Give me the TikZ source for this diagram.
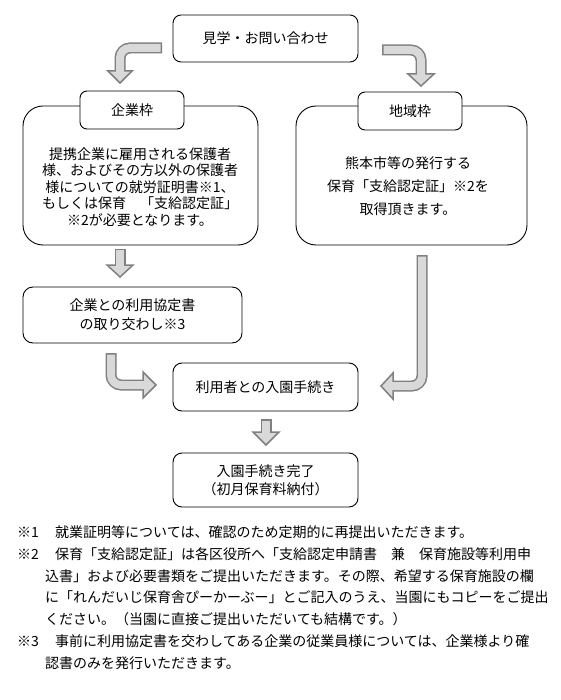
\documentclass[tikz,border=0pt]{standalone}
\usepackage{fontspec}
\newfontfamily\jp{Noto Sans CJK JP}
\definecolor{agray}{RGB}{128,128,128}
\definecolor{afill}{RGB}{217,217,217}
\begin{document}
\begin{tikzpicture}[x=1pt,y=-1pt,
  box/.style={draw=black, line width=0.9pt, fill=white, inner sep=0pt, font=\jp\fontsize{14}{16.5}\selectfont, align=center},
  txt/.style={inner sep=0pt, font=\jp\fontsize{14}{16.5}\selectfont, align=center},
  fn/.style={inner sep=0pt, anchor=base west, font=\jp\fontsize{14}{16}\selectfont},
  arrowout/.style={draw=agray, line width=11pt, rounded corners=10pt},
  arrowin/.style={draw=afill, line width=8pt, rounded corners=10pt},
  arrowhead/.style={fill=afill, draw=agray, line width=1.5pt, line join=miter}
]
\useasboundingbox (0,0) rectangle (560,700);
\fill[white] (0,0) rectangle (560,700);

% boxes
\node[box, rounded corners=8pt, minimum width=185pt, minimum height=47pt] (top) at (265.5,38.5) {見学・お問い合わせ};
\node[box, rounded corners=20pt, minimum width=235pt, minimum height=139pt] (lbig) at (140.5,175.5) {};
\node[box, rounded corners=20pt, minimum width=231pt, minimum height=139pt] (rbig) at (411.5,175.5) {};
\node[box, rounded corners=7pt, minimum width=104pt, minimum height=38pt] (llab) at (132,110) {企業枠};
\node[box, rounded corners=7pt, minimum width=104pt, minimum height=38pt] (rlab) at (410,111) {地域枠};
\node[txt] (ltext) at (140,187) {提携企業に雇用される保護者\\様、およびその方以外の保護者\\様についての就労証明書※1、\\もしくは保育　「支給認定証」\\※2が必要となります。};
\node[txt, font=\jp\fontsize{14}{23}\selectfont] (rtext) at (408,186) {熊本市等の発行する\\保育「支給認定証」※2を\\取得頂きます。};
\node[box, rounded corners=10pt, minimum width=219pt, minimum height=56pt, font=\jp\fontsize{14}{19}\selectfont] (kyotei) at (132.5,315) {企業との利用協定書\\の取り交わし※3};
\node[box, rounded corners=9pt, minimum width=185pt, minimum height=48pt] (riyo) at (265.5,387) {利用者との入園手続き};
\node[box, rounded corners=9pt, minimum width=185pt, minimum height=54pt, font=\jp\fontsize{14}{18}\selectfont] (final) at (265.5,480) {入園手続き完了\\（初月保育料納付）};

% arrow 1: top -> left label
\draw[arrowout] (162,48) -- (120,48) -- (120,71.5);
\filldraw[arrowhead] (108,71) -- (132,71) -- (120,83) -- cycle;
\draw[arrowin] (160.5,48) -- (120,48) -- (120,73);

% arrow 2: top -> right label
\draw[arrowout] (382,50) -- (421,50) -- (421,74.5);
\filldraw[arrowhead] (408,74) -- (434,74) -- (421,86) -- cycle;
\draw[arrowin] (383.5,50) -- (421,50) -- (421,76);

% arrow 3: left big -> kyotei
\draw[arrowout] (120,249) -- (120,265.5);
\filldraw[arrowhead] (107,265) -- (133,265) -- (120,277) -- cycle;
\draw[arrowin] (120,250.5) -- (120,267);

% arrow 4: kyotei -> riyo
\draw[arrowout] (111,353) -- (111,385) -- (143.5,385);
\filldraw[arrowhead] (143,372) -- (143,398) -- (156,385) -- cycle;
\draw[arrowin] (111,354.5) -- (111,385) -- (145,385);

% arrow 5: right big -> riyo
\draw[arrowout] (422,255) -- (422,386) -- (392.5,386);
\filldraw[arrowhead] (393,373) -- (393,399) -- (381,386) -- cycle;
\draw[arrowin] (422,256.5) -- (422,386) -- (391,386);

% arrow 6: riyo -> final
\draw[arrowout] (266,419) -- (266,432.5);
\filldraw[arrowhead] (253,432) -- (279,432) -- (266,445) -- cycle;
\draw[arrowin] (266,420.5) -- (266,434);

% footnotes
\node[fn] (f1m) at (17,537) {※1};
\node[fn] (f1) at (55,537) {就業証明等については、確認のため定期的に再提出いただきます。};
\node[fn] (f2m) at (17,559) {※2};
\node[fn] (f2a) at (55,559) {保育「支給認定証」は各区役所へ「支給認定申請書　兼　保育施設等利用申};
\node[fn] (f2b) at (45,581) {込書」および必要書類をご提出いただきます。その際、希望する保育施設の欄};
\node[fn] (f2c) at (45,602) {に「れんだいじ保育舎ぴーかーぶー」とご記入のうえ、当園にもコピーをご提出};
\node[fn] (f2d) at (45,624) {ください。（当園に直接ご提出いただいても結構です。）};
\node[fn] (f3m) at (17,646) {※3};
\node[fn] (f3a) at (55,646) {事前に利用協定書を交わしてある企業の従業員様については、企業様より確};
\node[fn] (f3b) at (45,668) {認書のみを発行いただきます。};
\end{tikzpicture}
\end{document}
